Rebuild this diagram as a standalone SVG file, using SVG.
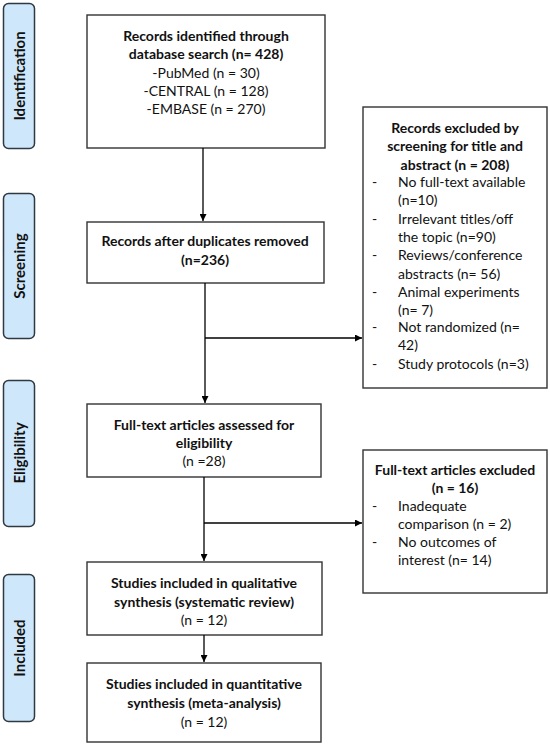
<svg xmlns="http://www.w3.org/2000/svg" width="550" height="745" viewBox="0 0 550 745">
<defs>
<marker id="ah" viewBox="0 0 10 10" refX="10" refY="5" markerWidth="7" markerHeight="7" markerUnits="userSpaceOnUse" orient="auto">
<path d="M0,0 L10,5 L0,10 z" fill="#000"/>
</marker>
<style>
.box{fill:#fff;stroke:#333;stroke-width:1.4}
.side{fill:#cfe7fa;stroke:#2f3942;stroke-width:1.5}
text{font-family:Lato,"Open Sans","Liberation Sans",sans-serif;font-size:14px;fill:#111}
.b{font-weight:bold}
.c{text-anchor:middle}
.sl{font-weight:bold;text-anchor:middle;font-size:15px}
.conn{fill:none;stroke:#000;stroke-width:1.3}
</style>
</defs>
<rect width="550" height="745" fill="#fff"/>

<g id="side-identification"><rect class="side" x="3.5" y="3.5" width="31" height="145" rx="5"/><text class="sl" transform="translate(25,76) rotate(-90)">Identification</text></g>
<g id="side-screening"><rect class="side" x="3.5" y="193.5" width="31" height="145" rx="5"/><text class="sl" transform="translate(25,266) rotate(-90)">Screening</text></g>
<g id="side-eligibility"><rect class="side" x="3.5" y="380.5" width="31" height="146" rx="5"/><text class="sl" transform="translate(25,453) rotate(-90)">Eligibility</text></g>
<g id="side-included"><rect class="side" x="3.5" y="574.5" width="31" height="147" rx="5"/><text class="sl" transform="translate(25,648) rotate(-90)">Included</text></g>

<g id="identified"><rect class="box" x="87" y="15" width="238" height="133"/>
<text class="c" x="206" y="41"><tspan class="b">Records identified through</tspan><tspan class="b" x="206" dy="18.3">database search (n= 428)</tspan><tspan x="206" dy="18.3">-PubMed (n = 30)</tspan><tspan x="206" dy="18.3">-CENTRAL (n = 128)</tspan><tspan x="206" dy="18.3">-EMBASE (n = 270)</tspan></text></g>

<g id="after-duplicates"><rect class="box" x="87" y="222" width="237" height="61"/>
<text class="c b" x="205" y="246">Records after duplicates removed<tspan x="205" dy="18.7">(n=236)</tspan></text></g>

<g id="excluded-screening"><rect class="box" x="363" y="107" width="184" height="281"/>
<text class="c b" x="455" y="133">Records excluded by<tspan x="455" dy="18.3">screening for title and</tspan><tspan x="455" dy="18.3">abstract (n = 208)</tspan></text>
<text x="372" y="187">-</text><text x="398" y="187">No full-text available</text><text x="398" y="205">(n=10)</text>
<text x="372" y="223.5">-</text><text x="398" y="223.5">Irrelevant titles/off</text><text x="398" y="242">the topic (n=90)</text>
<text x="372" y="260">-</text><text x="398" y="260">Reviews/conference</text><text x="398" y="278.5">abstracts (n= 56)</text>
<text x="372" y="297">-</text><text x="398" y="297">Animal experiments</text><text x="398" y="315">(n= 7)</text>
<text x="372" y="332">-</text><text x="398" y="332">Not randomized (n=</text><text x="398" y="350">42)</text>
<text x="372" y="368.5">-</text><text x="398" y="368.5">Study protocols (n=3)</text></g>

<g id="fulltext-assessed"><rect class="box" x="87" y="404" width="234" height="73"/>
<text class="c" x="204" y="429.5"><tspan class="b">Full-text articles assessed for</tspan><tspan class="b" x="204" dy="18">eligibility</tspan><tspan x="204" dy="18.4">(n =28)</tspan></text></g>

<g id="fulltext-excluded"><rect class="box" x="363" y="450" width="184" height="143"/>
<text class="c b" x="455" y="475">Full-text articles excluded<tspan x="455" dy="18.3">(n = 16)</tspan></text>
<text x="372" y="511">-</text><text x="398" y="511">Inadequate</text><text x="398" y="529">comparison (n = 2)</text>
<text x="372" y="547">-</text><text x="398" y="547">No outcomes of</text><text x="398" y="565">interest (n= 14)</text></g>

<g id="qualitative"><rect class="box" x="87" y="562" width="235" height="73"/>
<text class="c" x="204" y="588"><tspan class="b">Studies included in qualitative</tspan><tspan class="b" x="204" dy="19">synthesis (systematic review)</tspan><tspan x="204" dy="18.3">(n = 12)</tspan></text></g>

<g id="quantitative"><rect class="box" x="87" y="663" width="234" height="79"/>
<text class="c" x="204" y="688.5"><tspan class="b">Studies included in quantitative</tspan><tspan class="b" x="204" dy="19.4">synthesis (meta-analysis)</tspan><tspan x="204" dy="19">(n = 12)</tspan></text></g>

<g id="connectors">
<line class="conn" x1="203" y1="148" x2="203" y2="221" marker-end="url(#ah)"/>
<line class="conn" x1="205" y1="283" x2="205" y2="403" marker-end="url(#ah)"/>
<line class="conn" x1="205" y1="338" x2="362" y2="338" marker-end="url(#ah)"/>
<line class="conn" x1="204" y1="477" x2="204" y2="561" marker-end="url(#ah)"/>
<line class="conn" x1="204" y1="523" x2="362" y2="523" marker-end="url(#ah)"/>
<line class="conn" x1="204" y1="635" x2="204" y2="662" marker-end="url(#ah)"/>
</g>
</svg>
